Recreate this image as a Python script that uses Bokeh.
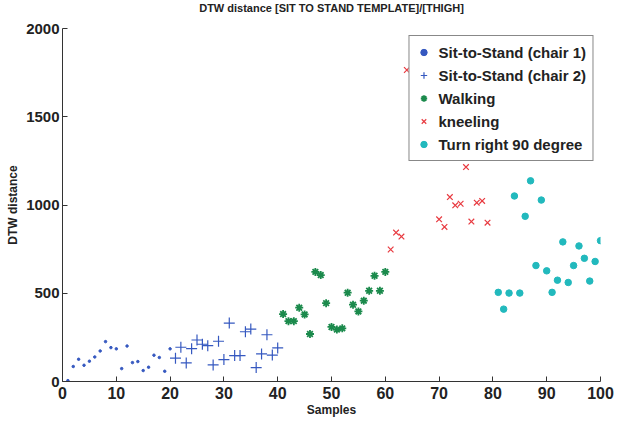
from bokeh.plotting import figure
from bokeh.models import FixedTicker, Range1d
from bokeh.embed import file_html
from bokeh.resources import INLINE

# ---- data ----
chair1_x = list(range(1, 21))
chair1_y = [5, 85, 126, 92, 115, 139, 173, 226, 192, 185, 73, 201, 107, 113, 62, 81, 149, 136, 58, 185]

chair2_x = list(range(21, 41))
chair2_y = [132, 194, 105, 186, 235, 211, 203, 94, 228, 124, 331, 147, 147, 282, 297, 79, 156, 265, 150, 190]

walk_x = list(range(41, 61))
walk_y = [382, 342, 342, 418, 380, 269, 621, 603, 444, 309, 294, 301, 503, 435, 397, 458, 514, 599, 514, 621]

kneel_x = [61, 62, 63, 64, 65, 70, 71, 72, 73, 74, 75, 76, 77, 78, 79]
kneel_y = [748, 844, 821, 1765, 1725, 919, 876, 1045, 998, 1007, 1215, 906, 1013, 1023, 900]

turn_x = list(range(81, 101))
turn_y = [505, 410, 501, 1051, 501, 936, 1137, 657, 1028, 627, 505, 574, 791, 561, 657, 768, 698, 569, 680, 798]

x_ticks = list(range(0, 101, 10))
y_ticks = [0, 500, 1000, 1500, 2000]

title_text = "DTW distance [SIT TO STAND TEMPLATE]/[THIGH]"
FONT = "Liberation Sans"

p = figure(width=631, height=425, output_backend="svg", toolbar_location=None,
           x_range=Range1d(0, 100), y_range=Range1d(0, 2000),
           min_border_left=62, min_border_right=31, min_border_top=27, min_border_bottom=44,
           title=title_text + "\n ")

p.title.align = "center"
p.title.vertical_align = "top"
p.title.text_font = FONT
p.title.text_font_size = "11px"
p.title.text_line_height = 1.0
p.title.text_font_style = "bold"
p.title.text_color = "#222222"
p.title.offset = 2
p.title.standoff = 2

p.outline_line_color = None
p.xgrid.visible = False
p.ygrid.visible = False
p.background_fill_color = "white"
p.border_fill_color = "white"

for ax in (p.xaxis, p.yaxis):
    ax.axis_line_color = "#333333"
    ax.axis_line_width = 1
    ax.major_tick_line_color = "#333333"
    ax.major_tick_in = 5
    ax.major_tick_out = 0
    ax.minor_tick_line_color = None
    ax.major_label_text_font = FONT
    ax.major_label_text_font_size = "16px"
    ax.major_label_text_font_style = "bold"
    ax.major_label_text_color = "#222222"
    ax.axis_label_text_font = FONT
    ax.axis_label_text_font_size = "12px"
    ax.axis_label_text_font_style = "bold"
    ax.axis_label_text_color = "#222222"

p.yaxis.major_label_text_font_size = "15px"
p.xaxis.ticker = FixedTicker(ticks=x_ticks)
p.yaxis.ticker = FixedTicker(ticks=y_ticks)
p.xaxis.axis_label = "Samples"
p.yaxis.axis_label = "DTW distance"
p.xaxis.major_label_standoff = 5
p.yaxis.major_label_standoff = 3
p.xaxis.axis_label_standoff = 1
p.yaxis.axis_label_standoff = 3

blue = "#3558c0"
green = "#1b8a4c"
red = "#e83a40"
cyan = "#22b9bd"

p.scatter(chair1_x, chair1_y, marker="circle", size=2.5, color=blue, legend_label="Sit-to-Stand (chair 1)")
p.scatter(chair2_x, chair2_y, marker="cross", size=11, line_color=blue, line_width=1.2,
          legend_label="Sit-to-Stand (chair 2)")
p.scatter(walk_x, walk_y, marker="asterisk", size=8, line_color=green, line_width=1.8,
          legend_label="Walking")
p.scatter(kneel_x, kneel_y, marker="x", size=8, line_color=red, line_width=1.2, legend_label="kneeling")
p.scatter(turn_x, turn_y, marker="circle", size=6.5, fill_color=cyan, line_color=cyan,
          legend_label="Turn right 90 degree")

lg = p.legend[0]
lg.location = "top_right"
lg.margin = 7
lg.padding = 6
lg.spacing = 3
lg.glyph_height = 20
lg.glyph_width = 16
lg.label_height = 20
lg.label_standoff = 7
lg.label_text_font = FONT
lg.label_text_font_size = "15px"
lg.label_text_font_style = "bold"
lg.label_text_color = "#222222"
lg.border_line_color = "#111111"
lg.border_line_width = 1.5
lg.background_fill_alpha = 1.0

open("out.html", "w").write(file_html(p, INLINE))
